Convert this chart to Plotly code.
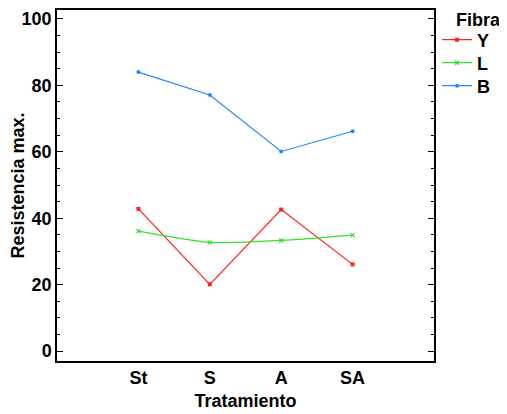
import plotly.graph_objects as go

tratamiento = ["St", "S", "A", "SA"]
fibra_Y = [42.8, 20.1, 42.6, 26.1]
fibra_L = [36.1, 32.7, 33.3, 34.9]
fibra_B = [84.0, 77.1, 60.1, 66.2]
yticks = [0, 20, 40, 60, 80, 100]

fig = go.Figure()
fig.add_trace(go.Scatter(x=tratamiento, y=fibra_Y, name="<b>Y</b>", mode="lines+markers",
                         legend="legend", showlegend=True,
                         line=dict(color="#ff2020", width=1.2),
                         marker=dict(symbol="square", size=4, color="#ff2020")))
fig.add_trace(go.Scatter(x=tratamiento, y=fibra_L, name="<b>L</b>", mode="lines+markers",
                         legend="legend2", showlegend=True,
                         line=dict(color="#30e030", width=1.2, shape="spline", smoothing=0.6),
                         marker=dict(symbol="x-thin", size=4, color="#30e030",
                                     line=dict(color="#30e030", width=1.2))))
fig.add_trace(go.Scatter(x=tratamiento, y=fibra_B, name="<b>B</b>", mode="lines+markers",
                         legend="legend3", showlegend=True,
                         line=dict(color="#2088ff", width=1.2),
                         marker=dict(symbol="circle", size=4, color="#2088ff")))

font_bold = "Liberation Sans"
leg = dict(font=dict(size=18, family=font_bold), x=1.008, xanchor="left", yanchor="middle",
           bgcolor="rgba(0,0,0,0)", visible=True)
fig.update_layout(
    width=499, height=406,
    margin=dict(l=49, r=73, t=2, b=53),
    showlegend=True,
    paper_bgcolor="white", plot_bgcolor="white",
    font=dict(family=font_bold, color="black", size=18),
    legend=dict(leg, y=0.9145),
    legend2=dict(leg, y=0.849),
    legend3=dict(leg, y=0.7835),
    annotations=[dict(text="<b>Fibra</b>", xref="paper", yref="paper", x=1.183, y=0.9715,
                      xanchor="right", yanchor="middle", showarrow=False,
                      font=dict(size=18, family=font_bold))],
    xaxis=dict(type="category", range=[-1.14, 4.14], automargin=False,
               showline=True, linecolor="black", linewidth=1.5, mirror=True,
               ticks="", showgrid=False, zeroline=False,
               tickfont=dict(size=18, family=font_bold),
               tickvals=tratamiento, ticktext=["<b>%s</b>" % t for t in tratamiento],
               title=dict(text="<b>Tratamiento</b>", font=dict(size=18), standoff=7)),
    yaxis=dict(range=[-3.0, 102.7], automargin=False,
               showline=True, linecolor="black", linewidth=1.5, mirror="ticks",
               ticks="inside", ticklen=6, tickwidth=1.2, tickcolor="black",
               minor=dict(dtick=5, ticks="inside", ticklen=3, tickwidth=1.2, tickcolor="black"),
               showgrid=False, zeroline=False,
               tickvals=yticks,
               ticktext=["<b>%d</b>" % v for v in yticks],
               tickfont=dict(size=18, family=font_bold),
               title=dict(text="<b>Resistencia max.</b>", font=dict(size=18), standoff=2)),
)
fig.write_html("out.html")
